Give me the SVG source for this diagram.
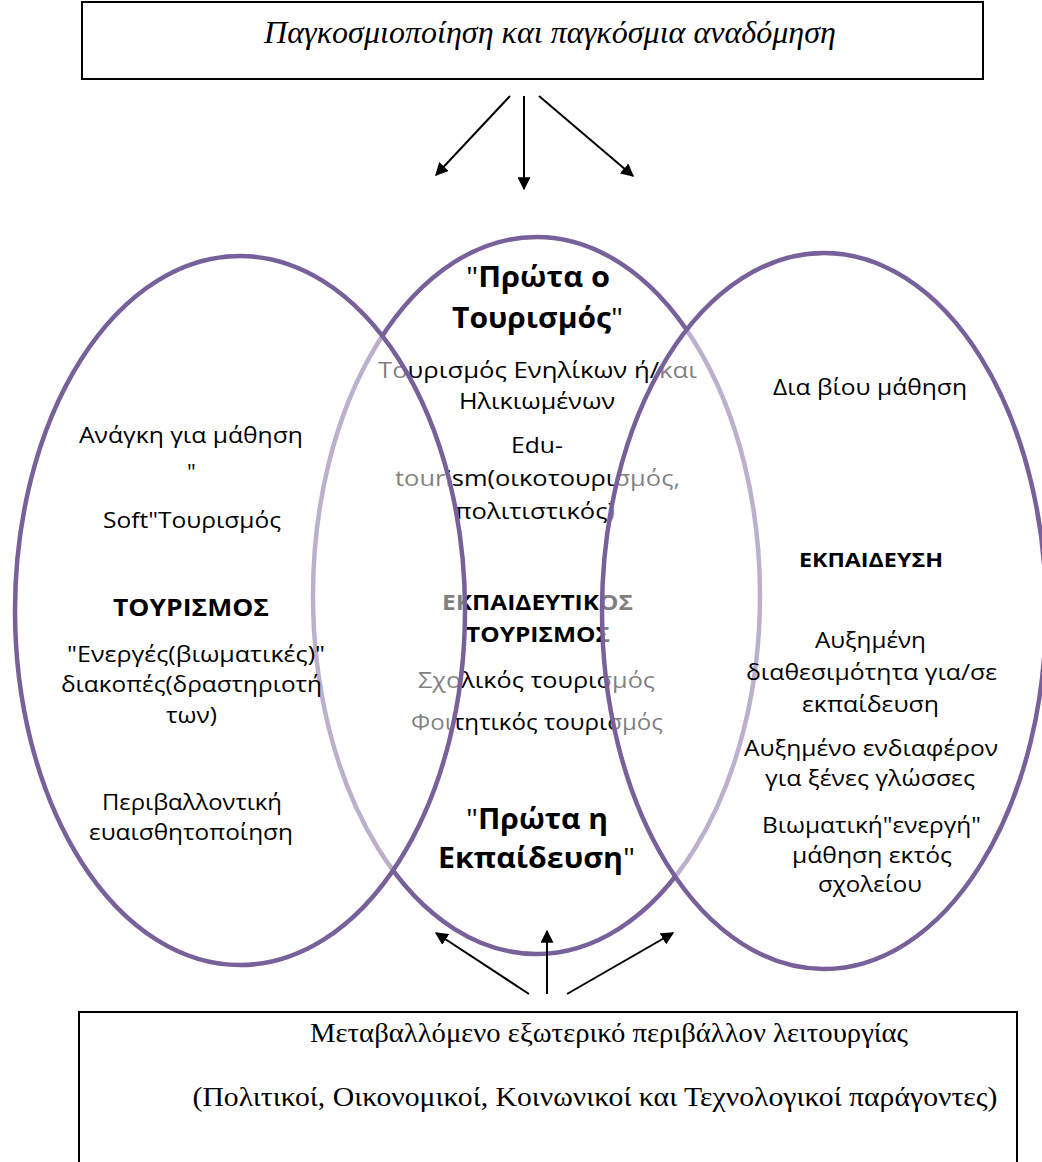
<svg xmlns="http://www.w3.org/2000/svg" width="1042" height="1162" viewBox="0 0 1042 1162">
  <style>
    .box { fill: #ffffff; stroke: #000000; stroke-width: 2; }
    .ell { stroke: #78609a; stroke-width: 4.5; }
    .ell-base { fill: #ffffff; }
    .ell-over { fill: #ffffff; fill-opacity: 0.5; }
    .t { font-family: "Open Sans", "Noto Sans", "DejaVu Sans", sans-serif; font-size: 22px; fill: #000000; text-anchor: middle; }
    .b { font-weight: bold; }
    .serif { font-family: "Liberation Serif", "Times New Roman", serif; font-size: 28px; fill: #000000; text-anchor: middle; }
    .it { font-style: italic; }
    .arrow { stroke: #000000; stroke-width: 2; fill: none; marker-end: url(#ah); }
  </style>
  <defs>
    <marker id="ah" viewBox="0 0 10 10" refX="9" refY="5" markerWidth="6.5" markerHeight="6.5" markerUnits="strokeWidth" orient="auto">
      <path d="M0,0 L10,5 L0,10 z" fill="#000000"/>
    </marker>
  </defs>
  <rect width="1042" height="1162" fill="#ffffff"/>

  <g id="node-globalisation">
    <rect class="box" x="82" y="2" width="901" height="77"/>
    <text class="serif it" x="550" y="43" style="font-size:31px" textLength="572" lengthAdjust="spacingAndGlyphs">Παγκοσμιοποίηση και παγκόσμια αναδόμηση</text>
  </g>

  <g id="node-educational-tourism">
    <ellipse class="ell ell-base" cx="536.5" cy="595.5" rx="223.5" ry="358.5"/>
    <text class="t" x="538" y="287" style="font-size:28px" textLength="144" lengthAdjust="spacingAndGlyphs">"<tspan class="b">Πρώτα ο</tspan></text>
    <text class="t" x="537.5" y="328" style="font-size:28px" textLength="171" lengthAdjust="spacingAndGlyphs"><tspan class="b">Τουρισμός</tspan>"</text>
    <text class="t" x="537.5" y="378" textLength="319" lengthAdjust="spacingAndGlyphs">Τουρισμός Ενηλίκων ή/και</text>
    <text class="t" x="537" y="409" textLength="156" lengthAdjust="spacingAndGlyphs">Ηλικιωμένων</text>
    <text class="t" x="537" y="453" textLength="52" lengthAdjust="spacingAndGlyphs">Edu-</text>
    <text class="t" x="537.5" y="486" textLength="285" lengthAdjust="spacingAndGlyphs">tourism(οικοτουρισμός,</text>
    <text class="t" x="535" y="519" textLength="160" lengthAdjust="spacingAndGlyphs">πολιτιστικός)</text>
    <text class="t b" x="537.5" y="610" style="font-size:22px" textLength="191" lengthAdjust="spacingAndGlyphs">ΕΚΠΑΙΔΕΥΤΙΚΟΣ</text>
    <text class="t b" x="538" y="642" style="font-size:22px" textLength="144" lengthAdjust="spacingAndGlyphs">ΤΟΥΡΙΣΜΟΣ</text>
    <text class="t" x="536.5" y="688" textLength="237" lengthAdjust="spacingAndGlyphs">Σχολικός τουρισμός</text>
    <text class="t" x="537" y="730" textLength="252" lengthAdjust="spacingAndGlyphs">Φοιτητικός τουρισμός</text>
    <text class="t" x="537" y="829" style="font-size:28px" textLength="142" lengthAdjust="spacingAndGlyphs">"<tspan class="b">Πρώτα η</tspan></text>
    <text class="t" x="536.5" y="868" style="font-size:28px" textLength="197" lengthAdjust="spacingAndGlyphs"><tspan class="b">Εκπαίδευση</tspan>"</text>
  </g>

  <g id="node-tourism">
    <ellipse class="ell ell-over" cx="240" cy="610.5" rx="225" ry="354.5"/>
    <text class="t" x="191" y="443" textLength="224" lengthAdjust="spacingAndGlyphs">Ανάγκη για μάθηση</text>
    <text class="t" x="191.5" y="480">"</text>
    <text class="t" x="192" y="528" textLength="178" lengthAdjust="spacingAndGlyphs">Soft"Τουρισμός</text>
    <text class="t b" x="191" y="616" style="font-size:24px" textLength="156" lengthAdjust="spacingAndGlyphs">ΤΟΥΡΙΣΜΟΣ</text>
    <text class="t" x="196" y="662" textLength="258" lengthAdjust="spacingAndGlyphs">"Ενεργές(βιωματικές)"</text>
    <text class="t" x="191.5" y="692" textLength="261" lengthAdjust="spacingAndGlyphs">διακοπές(δραστηριοτή</text>
    <text class="t" x="191.5" y="723" textLength="51" lengthAdjust="spacingAndGlyphs">των)</text>
    <text class="t" x="192" y="810" textLength="180" lengthAdjust="spacingAndGlyphs">Περιβαλλοντική</text>
    <text class="t" x="191" y="840" textLength="204" lengthAdjust="spacingAndGlyphs">ευαισθητοποίηση</text>
  </g>

  <g id="node-education">
    <ellipse class="ell ell-over" cx="824" cy="611" rx="222" ry="358"/>
    <text class="t" x="870" y="395" textLength="194" lengthAdjust="spacingAndGlyphs">Δια βίου μάθηση</text>
    <text class="t b" x="871" y="567" style="font-size:20px" textLength="144" lengthAdjust="spacingAndGlyphs">ΕΚΠΑΙΔΕΥΣΗ</text>
    <text class="t" x="870.5" y="648" textLength="111" lengthAdjust="spacingAndGlyphs">Αυξημένη</text>
    <text class="t" x="871.5" y="680" textLength="251" lengthAdjust="spacingAndGlyphs">διαθεσιμότητα για/σε</text>
    <text class="t" x="870.5" y="712" textLength="137" lengthAdjust="spacingAndGlyphs">εκπαίδευση</text>
    <text class="t" x="871" y="756" textLength="254" lengthAdjust="spacingAndGlyphs">Αυξημένο ενδιαφέρον</text>
    <text class="t" x="870" y="786" textLength="210" lengthAdjust="spacingAndGlyphs">για ξένες γλώσσες</text>
    <text class="t" x="871.5" y="833" textLength="219" lengthAdjust="spacingAndGlyphs">Βιωματική"ενεργή"</text>
    <text class="t" x="872" y="863" textLength="160" lengthAdjust="spacingAndGlyphs">μάθηση εκτός</text>
    <text class="t" x="870" y="892" textLength="104" lengthAdjust="spacingAndGlyphs">σχολείου</text>
  </g>

  <g id="node-environment">
    <rect class="box" x="79" y="1012" width="938" height="160"/>
    <text class="serif" x="609" y="1042" textLength="598" lengthAdjust="spacingAndGlyphs">Μεταβαλλόμενο εξωτερικό περιβάλλον λειτουργίας</text>
    <text class="serif" x="595" y="1106" textLength="805" lengthAdjust="spacingAndGlyphs">(Πολιτικοί, Οικονομικοί, Κοινωνικοί και Τεχνολογικοί παράγοντες)</text>
  </g>

  <g id="connectors">
    <line class="arrow" x1="510" y1="96" x2="436" y2="175"/>
    <line class="arrow" x1="524" y1="96" x2="524" y2="189"/>
    <line class="arrow" x1="539" y1="96" x2="633" y2="176"/>
    <line class="arrow" x1="529" y1="994" x2="436" y2="933"/>
    <line class="arrow" x1="547" y1="994" x2="547" y2="931"/>
    <line class="arrow" x1="567" y1="994" x2="673" y2="933"/>
  </g>
</svg>
